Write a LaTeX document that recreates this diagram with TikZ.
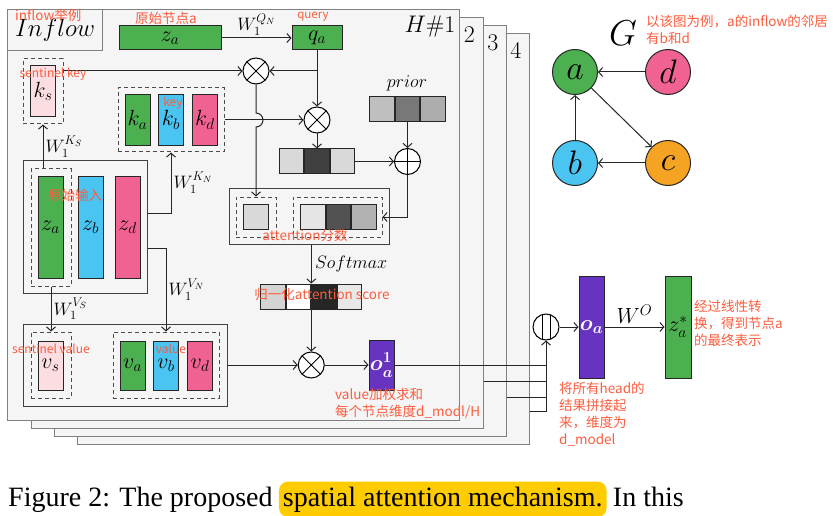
\documentclass[tikz,border=0pt]{standalone}
\usepackage{fix-cm}
\usepackage{amsmath}
\usepackage{fontspec}
\newfontfamily\cjk{Noto Sans CJK SC}
\newfontfamily\capfont{Liberation Serif}
\usepackage{tikz}
\usetikzlibrary{arrows.meta,positioning,calc}

\definecolor{zgreen}{RGB}{76,175,80}
\definecolor{zblue}{RGB}{74,196,240}
\definecolor{zpink}{RGB}{240,98,146}
\definecolor{zrose}{RGB}{252,222,226}
\definecolor{zpurple}{RGB}{103,51,193}
\definecolor{zorange}{RGB}{245,163,35}
\definecolor{notered}{RGB}{252,92,62}
\definecolor{hiyellow}{RGB}{255,204,0}

\begin{document}
\begin{tikzpicture}[
  x=1pt, y=-1pt,
  panel/.style={draw=black!50, fill=black!4, line width=1.3pt, minimum width=452pt,
    minimum height=411pt, anchor=north west, inner sep=0},
  vec/.style={draw=black!85, line width=1pt, inner sep=0, minimum width=25pt,
    font=\fontsize{22}{26}\selectfont},
  cell/.style={draw=black!85, line width=1pt, inner sep=0, minimum width=24.5pt, minimum height=25pt},
  grp/.style={draw=black!75, line width=1pt, inner sep=0},
  dgrp/.style={draw=black!70, line width=1pt, dash pattern=on 4pt off 3pt, inner sep=0},
  op/.style={circle, draw, fill=white, line width=1pt, minimum size=26pt, inner sep=0},
  mult/.style={op, path picture={\draw[line width=1pt]
    (path picture bounding box.north west) -- (path picture bounding box.south east)
    (path picture bounding box.north east) -- (path picture bounding box.south west);}},
  addop/.style={op, path picture={\draw[line width=1pt]
    (path picture bounding box.north) -- (path picture bounding box.south)
    (path picture bounding box.west) -- (path picture bounding box.east);}},
  catop/.style={op, path picture={\draw[line width=1pt]
    ([xshift=-4pt]path picture bounding box.north) -- ([xshift=-4pt]path picture bounding box.south)
    ([xshift=4pt]path picture bounding box.north) -- ([xshift=4pt]path picture bounding box.south);}},
  conn/.style={-{Straight Barb[length=4pt,width=9pt]}, line width=1pt, draw=black!85},
  line/.style={line width=1pt, draw=black!85},
  wlab/.style={font=\fontsize{18}{20}\selectfont, inner sep=2pt},
  big/.style={font=\fontsize{24}{24}\selectfont},
  note/.style={text=notered, font=\cjk\fontsize{13.5}{17}\selectfont, inner sep=0, align=left},
  smallnote/.style={note, font=\cjk\fontsize{12}{14}\selectfont},
  gnode/.style={circle, draw=black!85, line width=1pt, minimum size=45pt, inner sep=0,
    font=\fontsize{34}{34}\selectfont},
  captxt/.style={font=\capfont\fontsize{28}{30}\selectfont, inner sep=0},
]
\useasboundingbox (0,0) rectangle (833,516);

% stacked heads
\node[panel] (h4) at (77,33) {};
\node[panel] (h3) at (54,25) {};
\node[panel] (h2) at (31,17) {};
\node[panel] (h1) at (7,9) {};
\node[big] (n2) at (469.5,35) {2};
\node[big] (n3) at (493,43) {3};
\node[big] (n4) at (516,50) {4};
\node[big] (hname) at (430,27) {$H\#1$};
\node[panel, minimum width=95pt, minimum height=41pt, font=\fontsize{25}{25}\selectfont] (tab) at (7,9) {$Inflow$};

% query side
\node[vec, fill=zgreen, minimum width=102pt, minimum height=24pt] (zq) at (170,38) {$z_a$};
\node[vec, fill=zgreen, minimum width=50pt, minimum height=24pt] (qa) at (317,38) {$q_a$};
\node[mult] (ot1) at (256,71) {};
\node[mult] (ot2) at (317,120) {};

% keys
\node[dgrp, minimum width=40pt, minimum height=65pt] (ksg) at (43,91.5) {};
\node[vec, fill=zrose, minimum height=51pt] (ks) at (43,91.5) {$k_s$};
\node[dgrp, minimum width=106pt, minimum height=64pt] (kg) at (171,120) {};
\node[vec, fill=zgreen, minimum height=51pt] (ka) at (137.5,120) {$k_a$};
\node[vec, fill=zblue, minimum height=51pt, right=7.5pt of ka] (kb) {$k_b$};
\node[vec, fill=zpink, minimum height=51pt, right=8pt of kb] (kd) {$k_d$};

% prior and scores
\node[font=\fontsize{18}{20}\selectfont] (prlab) at (407,83) {$prior$};
\node[cell, fill=black!25] (pr1) at (382,109.5) {};
\node[cell, fill=black!53, right=0pt of pr1] (pr2) {};
\node[cell, fill=black!32, right=0pt of pr2] (pr3) {};
\node[addop] (opl) at (407.5,161.5) {};
\node[cell, fill=black!15] (sc1) at (291.5,161.5) {};
\node[cell, fill=black!75, right=0pt of sc1] (sc2) {};
\node[cell, fill=black!15, right=0pt of sc2] (sc3) {};

% attention scores
\node[grp, minimum width=160pt, minimum height=55pt] (att) at (309,216.5) {};
\node[dgrp, minimum width=40pt, minimum height=40pt] (asg) at (256,217) {};
\node[cell, fill=black!15] (as) at (256,217) {};
\node[dgrp, minimum width=89pt, minimum height=40pt] (ang) at (337.5,217) {};
\node[cell, fill=black!10] (an1) at (313,217) {};
\node[cell, fill=black!68, right=0pt of an1] (an2) {};
\node[cell, fill=black!30, right=0pt of an2] (an3) {};

% normalized scores
\node[cell, fill=black!17] (nm1) at (273,296.5) {};
\node[cell, fill=white, right=0pt of nm1] (nm2) {};
\node[cell, fill=black!85, right=0pt of nm2] (nm3) {};
\node[cell, fill=black!9, right=0pt of nm3] (nm4) {};

% inputs
\node[grp, minimum width=124pt, minimum height=132pt] (inp) at (85,227) {};
\node[dgrp, minimum width=40pt, minimum height=117pt] (zg) at (51,227.5) {};
\node[vec, fill=zgreen, minimum height=101pt] (za) at (50.5,227.5) {$z_a$};
\node[vec, fill=zblue, minimum height=101pt] (zb) at (90.5,227.5) {$z_b$};
\node[vec, fill=zpink, minimum height=101pt] (zd) at (127.5,227.5) {$z_d$};

% values
\node[grp, minimum width=204pt, minimum height=82pt] (val) at (125,365) {};
\node[dgrp, minimum width=40pt, minimum height=66pt] (vsg) at (51,365) {};
\node[vec, fill=zrose, minimum height=49pt] (vs) at (50.5,365.5) {$v_s$};
\node[dgrp, minimum width=106pt, minimum height=66pt] (vg) at (166,365) {};
\node[vec, fill=zgreen, minimum height=49pt] (va) at (132.5,365.5) {$v_a$};
\node[vec, fill=zblue, minimum height=49pt, right=7.5pt of va] (vb) {$v_b$};
\node[vec, fill=zpink, minimum height=49pt, right=8pt of vb] (vd) {$v_d$};

% outputs
\node[mult] (ot3) at (311.25,365) {};
\node[vec, fill=zpurple, minimum height=50pt, text=white] (o1) at (381.5,365) {$\boldsymbol{o_a^1}$};
\node[catop] (cat) at (546,327) {};
\node[vec, fill=zpurple, minimum height=102pt, text=white] (oa) at (591.5,327) {$\boldsymbol{o_a}$};
\node[vec, fill=zgreen, minimum width=26pt, minimum height=102pt] (zs) at (678,327) {$z_a^*$};

% graph
\node[font=\fontsize{36}{36}\selectfont] (gname) at (623,33) {$G$};
\node[gnode, fill=zgreen] (ga) at (575,72) {$a$};
\node[gnode, fill=zpink] (gd) at (668,72) {$d$};
\node[gnode, fill=zblue] (gb) at (575,163) {$b$};
\node[gnode, fill=zorange] (gc) at (668,163) {$c$};
\draw[conn] (gd) -- (ga);
\draw[conn] (gb) -- (ga);
\draw[conn] (ga) -- (gc);
\draw[conn] (gc) -- (gb);

% connectors
\draw[conn] (zq) -- node[wlab, above] (wq) {$W_1^{Q_N}$} (qa);
\draw[conn] (qa) -- (ot2);
\draw[conn] (qa.south |- ot1) -- (ot1);
\draw[conn] (ksg.east |- ot1) -- (ot1);
\draw[conn] (kg) -- (ot2);
\draw[conn] (ot1) -- ($(ot1 |- ot2)+(0,-7)$) arc[start angle=90, end angle=-90, radius=7pt]
  -- (ot1 |- asg.north);
\draw[conn] (pr2) -- (opl);
\draw[conn] (ot2) -- (sc2);
\draw[conn] (sc3) -- (opl);
\draw[conn] (opl) |- (ang);
\draw[conn] (att.south -| nm3.west) -- node[right, font=\fontsize{18}{20}\selectfont] (smx) {$Softmax$} (nm3.north west);
\draw[conn] (nm3.south west) -- (ot3);
\draw[conn] (val) -- (ot3);
\draw[conn] (ot3) -- (o1);
\draw[conn] (ksg.south |- zg.north) -- node[wlab, right] (wks) {$W_1^{K_S}$} (ksg.south);
\draw[conn] ([yshift=14pt]inp.east) -| node[wlab, pos=0.75, right] (wkn) {$W_1^{K_N}$} (kg.south);
\draw[conn] ([yshift=-21pt]inp.east) -| node[wlab, pos=0.75, right] (wvn) {$W_1^{V_N}$} (vg.north);
\draw[conn] (zg) -- node[wlab, right] (wvs) {$W_1^{V_S}$} (vsg);

\coordinate (j2) at ([yshift=48pt]h2.south east);
\coordinate (j3) at ([yshift=40pt]h3.south east);
\coordinate (j4) at ([yshift=34pt]h4.south east);
\draw[line] (o1) -- (o1 -| cat);
\draw[line] (j2) -- (j2 -| cat);
\draw[line] (j3) -- (j3 -| cat);
\draw[conn] (j4) -| (cat);
\draw[conn] (cat) -- (oa);
\draw[conn] (oa) -- node[above, font=\fontsize{22}{24}\selectfont] (wo) {$W^O$} (zs);

% notes
\node[note, anchor=west] (t1) at (15,15) {inflow举例};
\node[note] (t2) at (166,18) {原始节点a};
\node[smallnote, font=\cjk\fontsize{11.5}{13}\selectfont] (t3) at (313,17) {query};
\node[smallnote] (t4) at (53,74) {sentinel key};
\node[smallnote] (t5) at (173,103) {key};
\node[note] (t6) at (75,195) {原始输入};
\node[note] (t7) at (305,235) {attention分数};
\node[note] (t8) at (322,294) {归一化attention score};
\node[smallnote] (t9) at (51,349) {sentinel value};
\node[smallnote] (t10) at (171,349) {value};
\node[note, anchor=north west] (t11) at (335,388) {value加权求和\\每个节点维度d\_modl/H};
\node[note, anchor=north west] (t12) at (559,382) {将所有head的\\结果拼接起\\来，维度为\\d\_model};
\node[note, anchor=north west] (t13) at (694,300) {经过线性转\\换，得到节点a\\的最终表示};
\node[note, anchor=north west] (t14) at (646,15) {以该图为例，a的inflow的邻居\\有b和d};

% caption
\node[captxt, anchor=base west] (cap1) at (8,506) {Figure 2: The proposed};
\node[captxt, anchor=base west, fill=hiyellow, rounded corners=9pt, inner xsep=4pt, inner ysep=5pt]
  (cap2) at ([xshift=6pt]cap1.base east) {spatial attention mechanism.};
\node[captxt, anchor=base west] (cap3) at ([xshift=6pt]cap2.base east) {In this};
\end{tikzpicture}
\end{document}
